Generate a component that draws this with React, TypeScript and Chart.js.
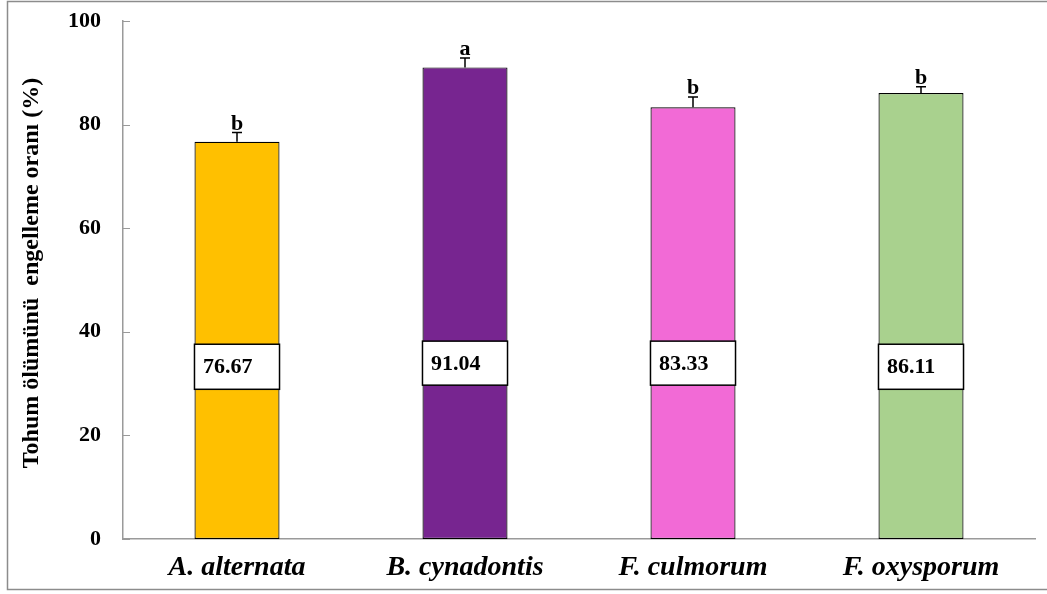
import React, { useEffect, useRef } from "react";
import { Chart, registerables } from "chart.js";

Chart.register(...registerables);

const categories = ["A. alternata", "B. cynadontis", "F. culmorum", "F. oxysporum"];
const values = [76.67, 91.04, 83.33, 86.11];
const errors = [1.8, 1.8, 2.0, 1.2];
const letters = ["b", "a", "b", "b"];
const valueLabels = ["76.67", "91.04", "83.33", "86.11"];
const boxTop = [37.6, 38.2, 38.2, 37.6];
const boxBottom = [28.9, 29.7, 29.7, 28.9];
const barColors = ["#FFC000", "#772590", "#F26AD6", "#A9D18E"];
const yTicks = [0, 20, 40, 60, 80, 100];
const yTitle = "Tohum ölümünü  engelleme oranı (%)";

const SERIF = "'Liberation Serif', 'Times New Roman', serif";

const overlayPlugin = {
  id: "overlay",
  afterDatasetsDraw(chart: any) {
    const ctx = chart.ctx;
    const y = chart.scales.y;
    const area = chart.chartArea;
    const meta = chart.getDatasetMeta(0);
    ctx.save();
    ctx.strokeStyle = "#9a9a9a";
    ctx.lineWidth = 1;
    y.ticks.forEach((t: any) => {
      const py = Math.round(y.getPixelForValue(t.value)) + 0.5;
      ctx.beginPath();
      ctx.moveTo(area.left, py);
      ctx.lineTo(area.left + 7, py);
      ctx.stroke();
    });
    meta.data.forEach((el: any, i: number) => {
      const x = el.x;
      const w = el.width;
      const yTop = y.getPixelForValue(values[i] + errors[i]);
      ctx.strokeStyle = "#000";
      ctx.lineWidth = 1.5;
      ctx.beginPath();
      ctx.moveTo(x, el.y);
      ctx.lineTo(x, yTop);
      ctx.moveTo(x - 5, yTop);
      ctx.lineTo(x + 5, yTop);
      ctx.stroke();
      ctx.fillStyle = "#000";
      ctx.font = `bold 22px ${SERIF}`;
      ctx.textAlign = "center";
      ctx.textBaseline = "alphabetic";
      ctx.fillText(letters[i], x, yTop - 3);
      const bt = y.getPixelForValue(boxTop[i]);
      const bb = y.getPixelForValue(boxBottom[i]);
      ctx.fillStyle = "#fff";
      ctx.fillRect(x - w / 2, bt, w, bb - bt);
      ctx.strokeStyle = "#000";
      ctx.lineWidth = 1.5;
      ctx.strokeRect(x - w / 2, bt, w, bb - bt);
      ctx.fillStyle = "#000";
      ctx.font = `bold 22px ${SERIF}`;
      ctx.textAlign = "left";
      ctx.textBaseline = "middle";
      ctx.fillText(valueLabels[i], x - w / 2 + 8.5, (bt + bb) / 2 + 1);
    });
    ctx.restore();
  },
  afterDraw(chart: any) {
    const ctx = chart.ctx;
    ctx.save();
    ctx.translate(32, 273);
    ctx.rotate(-Math.PI / 2);
    ctx.fillStyle = "#000";
    ctx.font = `bold 24px ${SERIF}`;
    ctx.textAlign = "center";
    ctx.textBaseline = "middle";
    ctx.fillText(yTitle, 0, 0);
    ctx.restore();
    ctx.save();
    ctx.strokeStyle = "#8c8c8c";
    ctx.lineWidth = 1.5;
    ctx.strokeRect(7.5, 1.5, 1050, 588);
    ctx.restore();
  },
};

export default function App() {
  const ref = useRef<HTMLCanvasElement | null>(null);
  useEffect(() => {
    if (!ref.current) return;
    const chart = new Chart(ref.current, {
      type: "bar",
      data: {
        labels: categories,
        datasets: [
          {
            data: values,
            backgroundColor: barColors,
            borderColor: "#000",
            borderWidth: 1.2,
            borderSkipped: false,
            barPercentage: 0.373,
            categoryPercentage: 1,
          },
        ],
      },
      options: {
        responsive: false,
        animation: false,
        layout: { padding: { top: 21, right: 12, left: 0, bottom: 0 } },
        plugins: { legend: { display: false }, tooltip: { enabled: false } },
        scales: {
          x: {
            afterFit: (s: any) => {
              s.height = 55;
            },
            grid: { display: false, drawTicks: false },
            border: { display: true, color: "#9a9a9a", width: 1.5 },
            ticks: {
              color: "#000",
              padding: 12,
              font: { family: SERIF, size: 28, weight: "bold", style: "italic" },
            },
          },
          y: {
            min: 0,
            max: 100,
            afterFit: (s: any) => {
              s.width = 123;
            },
            afterBuildTicks: (s: any) => {
              s.ticks = yTicks.map((v) => ({ value: v }));
            },
            grid: { display: false, drawTicks: true, tickLength: 22 },
            border: { display: true, color: "#9a9a9a", width: 1.5 },
            ticks: {
              color: "#000",
              padding: 0,
              font: { family: SERIF, size: 22, weight: "bold" },
            },
          },
        },
      },
      plugins: [overlayPlugin],
    });
    return () => chart.destroy();
  }, []);
  return (
    <div style={{ position: "absolute", left: 0, top: 0, width: 1047, height: 594, background: "#fff" }}>
      <canvas ref={ref} width={1047} height={594} style={{ display: "block" }} />
    </div>
  );
}
